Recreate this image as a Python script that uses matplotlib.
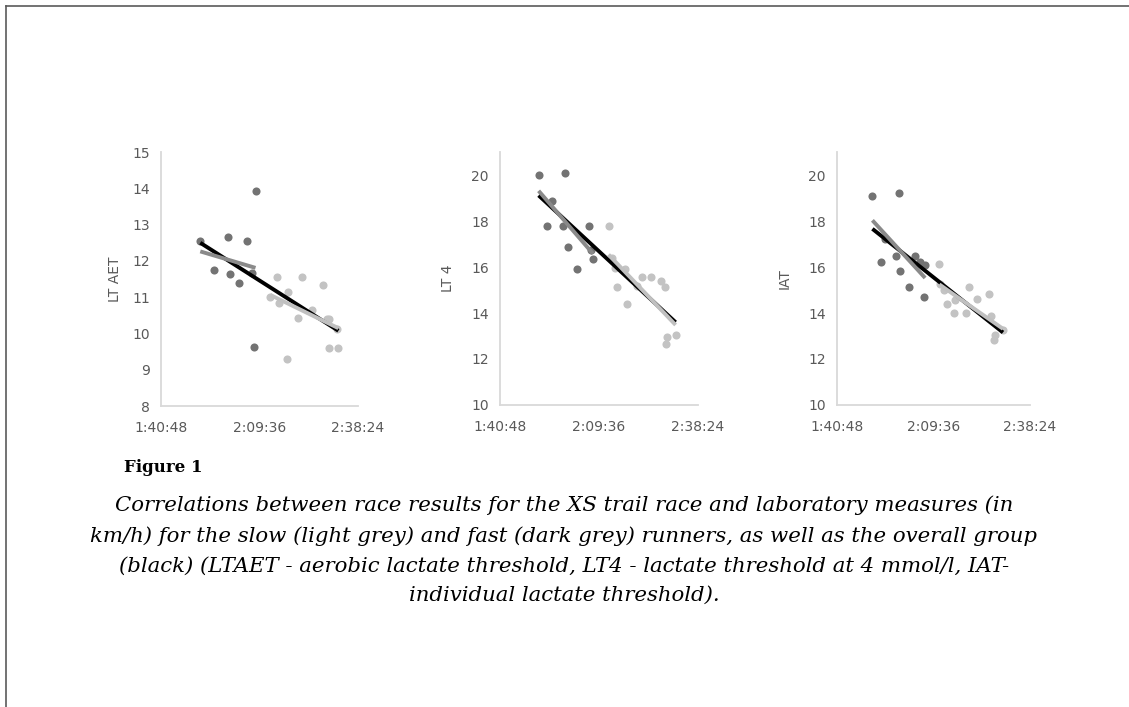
import numpy as np
import matplotlib.pyplot as plt
from matplotlib.lines import Line2D
from matplotlib.ticker import FuncFormatter

# race time in seconds, lab values in km/h
# fast runners (dark grey) / slow runners (light grey)
fast_t1 = [6737, 6970, 7215, 7250, 7420, 7550, 7644, 7706, 7683]
fast_v1 = [12.55, 11.75, 12.65, 11.65, 11.38, 12.55, 11.66, 13.93, 9.63]
slow_t1 = [7965, 8083, 8118, 8276, 8255, 8452, 8522, 8697, 8896, 8955, 9002, 8990, 9160, 9130]
slow_v1 = [11.0, 11.56, 10.85, 11.13, 9.30, 10.42, 11.56, 10.64, 11.33, 10.41, 10.41, 9.61, 9.61, 10.13]

fast_t2 = [6722, 6952, 6872, 7142, 7188, 7229, 7392, 7597, 7671, 7640]
fast_v2 = [19.98, 18.87, 17.78, 17.78, 20.07, 16.88, 15.93, 17.78, 16.36, 16.75]
slow_t2 = [7943, 8003, 8055, 8090, 8230, 8265, 8440, 8527, 8684, 8858, 8928, 8941, 8958, 9113]
slow_v2 = [17.78, 16.4, 15.96, 15.15, 15.93, 14.37, 15.16, 15.58, 15.58, 15.37, 15.15, 12.65, 12.94, 13.05]

fast_t3 = [6682, 7154, 6831, 6900, 7096, 7183, 7332, 7448, 7534, 7626, 7609]
fast_v3 = [19.10, 19.22, 16.21, 17.2, 16.5, 15.81, 15.13, 16.5, 16.21, 16.1, 14.7]
slow_t3 = [7880, 7891, 7966, 8012, 8139, 8156, 8352, 8415, 8559, 8761, 8801, 8859, 8870, 9020]
slow_v3 = [16.14, 15.27, 15.0, 14.4, 14.0, 14.56, 14.0, 15.13, 14.62, 14.84, 13.87, 12.82, 13.04, 13.25]

y_labels = ['LT AET', 'LT 4', 'IAT']
y_limits = [(8, 15), (10, 21)]
x_ticks = [6048, 7776, 9504]   # 1:40:48, 2:09:36, 2:38:24

caption = ("Correlations between race results for the XS trail race and laboratory measures (in\n"
           "km/h) for the slow (light grey) and fast (dark grey) runners, as well as the overall group\n"
           "(black) (LTAET - aerobic lactate threshold, LT4 - lactate threshold at 4 mmol/l, IAT-\n"
           "individual lactate threshold).")

W, H = 1129, 707
fig = plt.figure(figsize=(W / 100, H / 100), dpi=100)

def hms(x, pos):
	x = int(round(x))
	return '{}:{:02d}:{:02d}'.format(x // 3600, (x % 3600) // 60, x % 60)

def trend(ax, t, v, color, z):
	t = np.asarray(t, float)
	v = np.asarray(v, float)
	k, b = np.polyfit(t, v, 1)
	xs = np.array([t.min(), t.max()])
	ax.plot(xs, k * xs + b, color=color, lw=2.8, solid_capstyle='butt', zorder=z)

# pixel boxes of the three plot areas: left, right, top, bottom
boxes = [(161, 358, 152, 406), (500, 698, 152, 405), (837, 1030, 152, 405)]
lab_x = [-0.198, -0.227, -0.233]
ticks_y = [np.arange(8, 16, 1), np.arange(10, 21, 2), np.arange(10, 21, 2)]

data = [(fast_t1, fast_v1, slow_t1, slow_v1),
        (fast_t2, fast_v2, slow_t2, slow_v2),
        (fast_t3, fast_v3, slow_t3, slow_v3)]

for i, (ft, fv, st, sv) in enumerate(data):
	l, r, t, b = boxes[i]
	ax = fig.add_axes([l / W, (H - b) / H, (r - l) / W, (b - t) / H])
	ax.scatter(ft, fv, s=34, color='#737373', linewidths=0, zorder=2)
	ax.scatter(st, sv, s=34, color='#c3c3c3', linewidths=0, zorder=2)
	trend(ax, ft + st, fv + sv, 'black', 3)
	trend(ax, ft, fv, '#8a8a8a', 4)
	trend(ax, st, sv, '#c0c0c0', 4)

	ax.set_xlim(x_ticks[0], x_ticks[-1])
	ax.set_xticks(x_ticks)
	ax.xaxis.set_major_formatter(FuncFormatter(hms))
	ax.set_ylim(*y_limits[min(i, 1)])
	ax.set_yticks(ticks_y[i])

	for s in ['top', 'right']:
		ax.spines[s].set_visible(False)
	for s in ['left', 'bottom']:
		ax.spines[s].set_color('#d9d9d9')
		ax.spines[s].set_linewidth(1.3)
	ax.tick_params(length=0, labelsize=10, labelcolor='#595959')
	ax.tick_params(axis='x', pad=11)
	ax.tick_params(axis='y', pad=8)
	ax.set_ylabel(y_labels[i], fontsize=10, color='#595959')
	ax.yaxis.set_label_coords(lab_x[i], 0.5)
	ax.set_facecolor('none')

# page border lines
fig.add_artist(Line2D([6 / W, 1], [1 - 6 / H, 1 - 6 / H], color='#5a5a5a', lw=1.2))
fig.add_artist(Line2D([6 / W, 6 / W], [0, 1 - 6 / H], color='#5a5a5a', lw=1.2))

fig.text(124 / W, 1 - 468 / H, 'Figure 1', fontsize=12, fontweight='bold',
         family='DejaVu Serif', ha='left', va='center')
fig.text(564 / W, 1 - 550 / H, caption, fontsize=15.3, style='italic',
         family='DejaVu Serif', ha='center', va='center', linespacing=1.72)

fig.savefig('out.png', dpi=100)
